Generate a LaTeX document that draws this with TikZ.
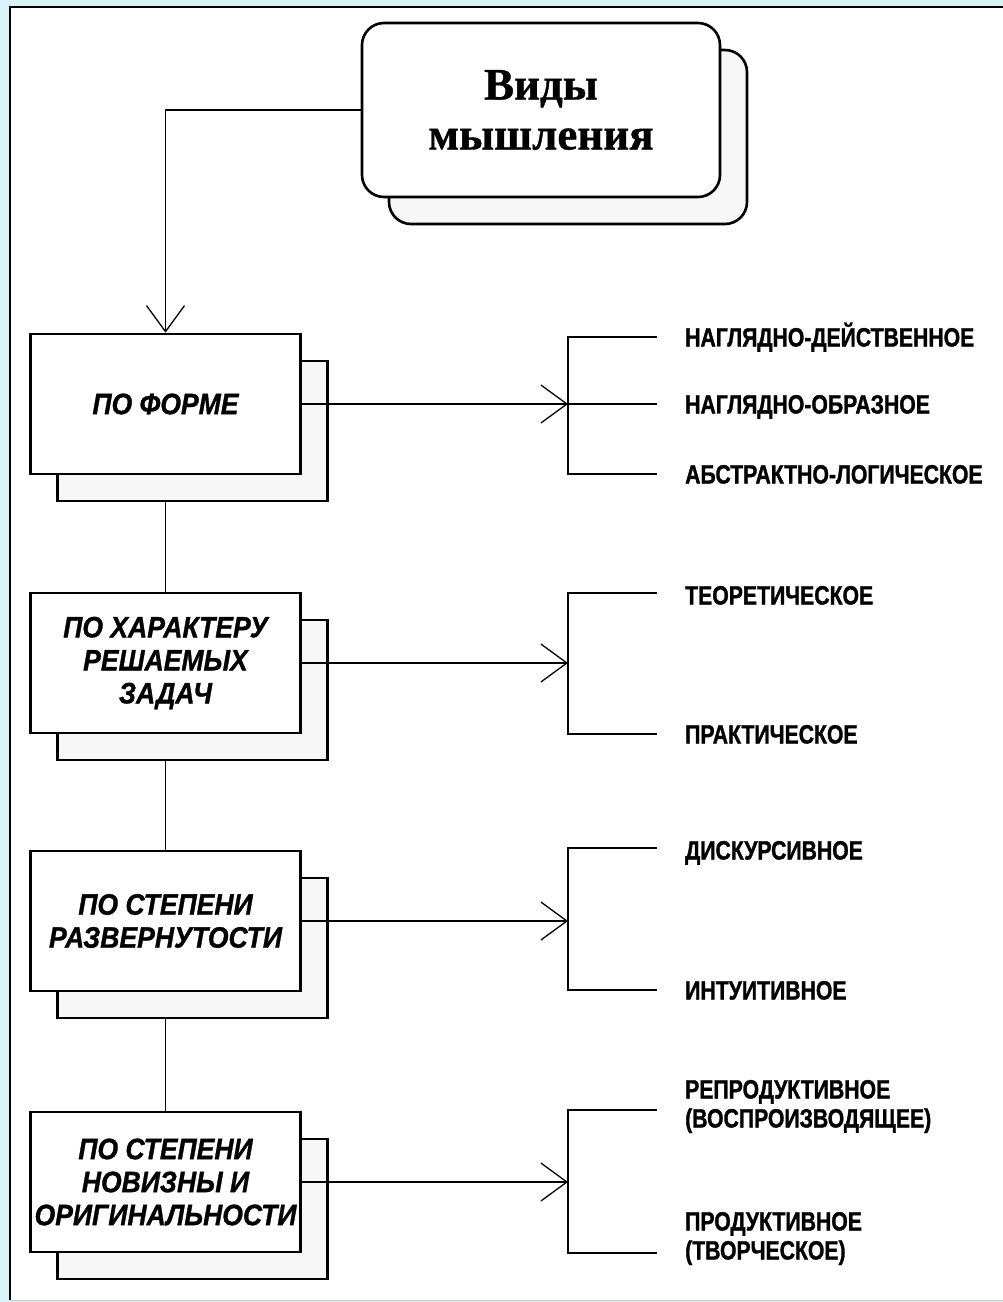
\documentclass[tikz,border=0pt]{standalone}
\usepackage{fontspec}
\setmainfont{Liberation Serif}
\newfontfamily\titlefont[FakeBold=0.8]{Liberation Serif}
\newfontfamily\labelfont[FakeStretch=0.8,FakeBold=1.2]{Liberation Sans}
\newfontfamily\boxfont[FakeStretch=0.9,FakeBold=1]{Liberation Sans}
\usetikzlibrary{arrows.meta,shadows,backgrounds}

\definecolor{framebg}{RGB}{218,243,249}
\definecolor{shadowgray}{gray}{0.97}

\tikzset{
  boxshadow/.style={copy shadow={shadow xshift=27pt,shadow yshift=-27pt,fill=shadowgray,draw=black,line width=2.6pt}},
  topbox/.style={draw,line width=2.6pt,rounded corners=22pt,fill=white,minimum width=358pt,minimum height=174pt,
    align=center,font=\titlefont\bfseries\fontsize{45}{50}\selectfont,boxshadow},
  kindbox/.style={draw,line width=2.6pt,fill=white,minimum width=270pt,minimum height=140pt,inner sep=0pt,
    align=center,font=\boxfont\bfseries\itshape\fontsize{29.5}{33}\selectfont,boxshadow},
  kindlabel/.style={anchor=west,inner sep=0pt,align=left,text height=19pt,text depth=0pt,
    font=\labelfont\bfseries\fontsize{26.5}{29}\selectfont},
  link/.style={line width=1.3pt},
  arr/.style={link,-{Straight Barb[length=26pt,width=38pt]}}
}

\begin{document}
\begin{tikzpicture}[x=1pt,y=-1pt]

%title box
\node[topbox] (kinds) at (541,110) {Виды\\мышления};

%draw boxes of the left column
\foreach \name/\y/\txt in {form/404/{ПО ФОРМЕ},
                           task/663/{ПО ХАРАКТЕРУ\\РЕШАЕМЫХ\\ЗАДАЧ},
                           deploy/921/{ПО СТЕПЕНИ\\РАЗВЕРНУТОСТИ},
                           novelty/1182/{ПО СТЕПЕНИ\\НОВИЗНЫ И\\ОРИГИНАЛЬНОСТИ}}
	{
	\node[kindbox] (\name) at (165.5,\y) {\txt};
	\coordinate (j\name) at (568,\y);
	}

%frame and vertical links behind the shadows
\begin{pgfonlayer}{background}
\useasboundingbox (0,0) rectangle (1003,1302);
\fill[framebg] (0,0) rectangle (1003,1302);
\fill[white] (10,7) rectangle (1003,1300);
\draw[line width=2.5pt] (10,1300) -- (10,7) -- (1003,7);
\draw[gray!40,line width=1pt] (10,1300) -- (1003,1300);
\foreach \a/\b in {form/task,task/deploy,deploy/novelty}
	{
	\draw[link] (\a.south) -- (\b.north);
	}
\end{pgfonlayer}

%arrow from the title
\draw[arr] (kinds.west) -| (form.north);

%labels on the right
\node[kindlabel] (l1) at (685,337) {НАГЛЯДНО-ДЕЙСТВЕННОЕ};
\node[kindlabel] (l2) at (685,404) {НАГЛЯДНО-ОБРАЗНОЕ};
\node[kindlabel] (l3) at (685,474) {АБСТРАКТНО-ЛОГИЧЕСКОЕ};
\node[kindlabel] (l4) at (685,595) {ТЕОРЕТИЧЕСКОЕ};
\node[kindlabel] (l5) at (685,734) {ПРАКТИЧЕСКОЕ};
\node[kindlabel] (l6) at (685,850) {ДИСКУРСИВНОЕ};
\node[kindlabel] (l7) at (685,990) {ИНТУИТИВНОЕ};
\node[kindlabel] (l8) at (685,1118) {РЕПРОДУКТИВНОЕ\\(ВОСПРОИЗВОДЯЩЕЕ)};
\node[kindlabel] (l9) at (685,1250) {ПРОДУКТИВНОЕ\\(ТВОРЧЕСКОЕ)};

%arrows to the brackets
\foreach \name in {form,task,deploy,novelty}
	{
	\draw[arr] (\name.east) -- (j\name);
	}

%draw brackets
\draw[link] ([xshift=-28pt]l1.west) -| (jform) |- ([xshift=-28pt]l3.west);
\draw[link] (jform) -- ([xshift=-28pt]l2.west);
\foreach \name/\a/\b in {task/l4/l5,deploy/l6/l7}
	{
	\draw[link] ([xshift=-28pt,yshift=2pt]\a.west) -| (j\name) |- ([xshift=-28pt]\b.west);
	}
\draw[link] ([xshift=-28pt,yshift=8pt]l8.west) -| (jnovelty) |- ([xshift=-28pt,yshift=-3pt]l9.west);

\end{tikzpicture}
\end{document}
